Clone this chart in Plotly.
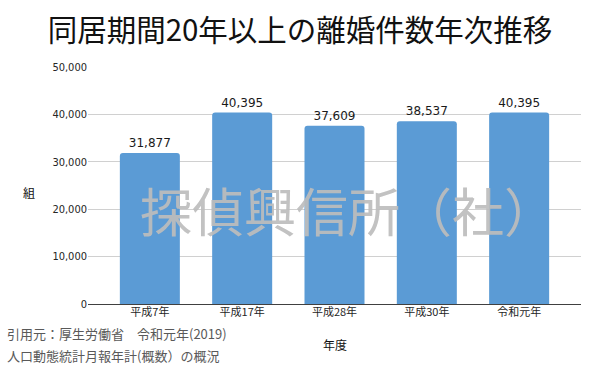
import plotly.graph_objects as go

categories = ["平成7年", "平成17年", "平成28年", "平成30年", "令和元年"]
values = [31877, 40395, 37609, 38537, 40395]
y_ticks = [0, 10000, 20000, 30000, 40000, 50000]
y_tick_labels = ["0", "10,000", "20,000", "30,000", "40,000", "50,000"]

title_text = "同居期間20年以上の離婚件数年次推移"
watermark = "探偵興信所（社）"
source_lines = ["引用元：厚生労働省　令和元年(2019)", "人口動態統計月報年計(概数）の概況"]

FONT = "Noto Sans CJK JP, Noto Sans, sans-serif"

fig = go.Figure()
fig.add_trace(go.Bar(
    x=categories,
    y=values,
    width=0.65,
    marker=dict(color="#5b9bd5", cornerradius=3, line=dict(width=0)),
    text=[f"{v:,}" for v in values],
    textposition="outside",
    cliponaxis=False,
    textfont=dict(size=12, color="#1a1a1a", family="DejaVu Sans, sans-serif"),
))

fig.update_layout(
    width=600, height=371,
    margin=dict(l=88, r=19, t=67, b=67),
    paper_bgcolor="white", plot_bgcolor="white",
    font=dict(family=FONT, color="#262626"),
    showlegend=False,
    title=dict(text=title_text, x=0.5, xanchor="center", y=0.918, yanchor="middle",
               font=dict(size=29.5, color="#111111", family=FONT)),
    xaxis=dict(
        range=[-0.67, 4.67],
        showgrid=False, showline=False, zeroline=False,
        ticks="", tickfont=dict(size=11, color="#262626", family=FONT),
    ),
    yaxis=dict(
        range=[0, 50000],
        tickvals=y_ticks, ticktext=y_tick_labels,
        showgrid=True, gridcolor="#d0d0d0", gridwidth=1,
        zeroline=True, zerolinecolor="#404040", zerolinewidth=1.3,
        showline=False, ticks="",
        tickfont=dict(size=11, color="#262626", family="DejaVu Sans Condensed, sans-serif"),
    ),
)

fig.add_annotation(text="組", xref="paper", yref="paper", x=-0.12, y=0.47,
                   xanchor="center", yanchor="middle",
                   showarrow=False, font=dict(size=12, color="#111111", family=FONT))
fig.add_annotation(text="年度", xref="paper", yref="paper", x=0.5, y=-0.17,
                   xanchor="center", yanchor="middle",
                   showarrow=False, font=dict(size=12, color="#111111", family=FONT))
fig.add_annotation(text=source_lines[0], xref="paper", yref="paper", x=-0.168, y=-0.125,
                   xanchor="left", yanchor="middle",
                   showarrow=False, font=dict(size=13, color="#595959", family=FONT))
fig.add_annotation(text=source_lines[1], xref="paper", yref="paper", x=-0.168, y=-0.218,
                   xanchor="left", yanchor="middle",
                   showarrow=False, font=dict(size=13, color="#595959", family=FONT))
fig.add_annotation(text=watermark, xref="paper", yref="paper", x=0.528, y=0.40,
                   xanchor="center", yanchor="middle", opacity=0.92,
                   showarrow=False, font=dict(size=52, color="#bdbdbd", family=FONT))

fig.write_html("out.html", config={"displayModeBar": False},
               post_script="document.body.style.margin='0';document.body.style.overflow='hidden';")
